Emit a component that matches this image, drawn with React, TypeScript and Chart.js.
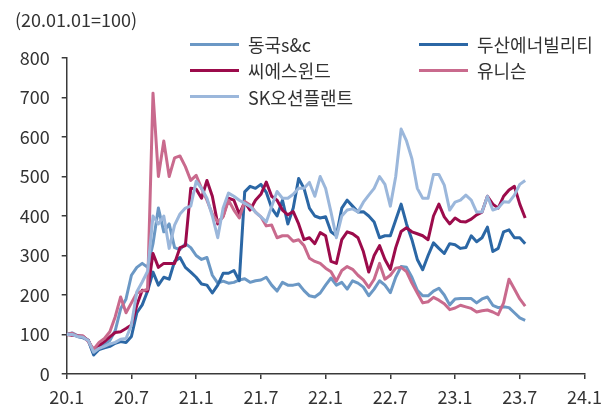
import React, { useEffect, useRef } from 'react';
import { Chart, registerables } from 'chart.js';

Chart.register(...registerables);

// Index (2020-01-01 = 100), semi-monthly samples starting Jan 2020
const seriesNames = ['동국s&c', '두산에너빌리티', '씨에스윈드', '유니슨', 'SK오션플랜트'];
const seriesColors = ['#6b98c5', '#2b67a5', '#9c0b4b', '#c96a8d', '#9bb7db'];
const xTickLabels = ['20.1', '20.7', '21.1', '21.7', '22.1', '22.7', '23.1', '23.7', '24.1'];
const titleText = '(20.01.01=100)';

const dongkuk = [
  100, 104, 97, 95, 85, 52, 68, 75, 85, 110, 165, 190, 250, 270, 280, 270,
  330, 420, 360, 380, 320, 315, 330, 320, 300, 290, 295, 250, 230, 235,
  230, 232, 238, 241, 232, 236, 238, 245, 225, 210, 232, 225, 225, 228, 211,
  198, 195, 205, 225, 243, 225, 232, 215, 236, 230, 220, 198, 215,
  236, 225, 206, 245, 272, 270, 245, 212, 198, 198, 210, 217, 200, 175, 190, 191,
  191, 191, 180, 190, 195, 174, 168, 170, 168, 155, 142, 136,
];
const doosan = [
  100, 102, 95, 92, 85, 48, 62, 66, 70, 78, 82, 80, 95, 155, 175, 210,
  258, 225, 245, 240, 285, 295, 270, 258, 245, 228, 225, 205, 225, 255,
  255, 262, 236, 461, 475, 470, 480, 460, 420, 400, 440, 380, 420, 495, 470,
  420, 400, 395, 398, 360, 350, 420, 440, 425, 410, 411, 400, 385,
  345, 350, 350, 390, 430, 380, 340, 290, 264, 300, 332, 318, 305, 330, 327, 318,
  320, 350, 335, 345, 372, 310, 318, 360, 365, 345, 345, 330,
];
const cswind = [
  100, 98, 97, 95, 85, 58, 72, 82, 94, 105, 107, 115, 124, 174, 212, 210,
  305, 270, 280, 280, 280, 320, 325, 470, 468, 445, 490, 450, 380, 400,
  445, 440, 405, 435, 415, 440, 455, 486, 450, 440, 415, 403, 411, 380, 340,
  345, 330, 358, 350, 285, 280, 340, 360, 355, 345, 310, 258, 300,
  325, 290, 265, 320, 361, 370, 360, 355, 350, 340, 400, 430, 398, 380, 395, 386,
  385, 392, 403, 410, 450, 430, 420, 450, 466, 475, 430, 395,
];
const unison = [
  100, 103, 96, 97, 82, 63, 80, 90, 107, 145, 195, 155, 180, 205, 210, 215,
  711, 500, 590, 500, 547, 552, 525, 490, 503, 470, 440, 405, 385, 398,
  440, 415, 395, 437, 428, 410, 398, 375, 377, 345, 350, 350, 336, 340, 325,
  293, 285, 280, 268, 259, 235, 262, 272, 265, 250, 238, 219, 240,
  280, 240, 250, 268, 270, 259, 230, 205, 180, 183, 194, 187, 178, 163, 167, 174,
  170, 166, 157, 160, 162, 157, 150, 180, 240, 215, 190, 172,
];
const skOcean = [
  100, 100, 95, 93, 85, 55, 65, 70, 76, 80, 88, 90, 124, 208, 233, 260,
  400, 380, 400, 318, 377, 405, 420, 425, 488, 470, 445, 400, 345, 420,
  458, 450, 440, 432, 424, 410, 398, 385, 424, 462, 445, 445, 455, 470, 470,
  485, 450, 500, 470, 410, 345, 400, 415, 418, 410, 435, 453, 470,
  500, 480, 425, 500, 620, 590, 545, 470, 445, 445, 505, 505, 478, 415, 435, 440,
  453, 440, 410, 410, 450, 415, 420, 436, 435, 453, 480, 490,
];

const seriesValues = [dongkuk, doosan, cswind, unison, skOcean];
// months elapsed since 2020-01 for each sample (semi-monthly sampling)
const sampleMonths = dongkuk.map((_, i) => i * 0.5);

const FONT = '"Noto Sans CJK KR", "Noto Sans", sans-serif';
const TEXT = '#333333';
const AXIS = '#3a3a3a';
const FONT_SIZE = 18;

const legendCols = [190, 419];
const legendRows = [44, 70, 96.5];

export default function App() {
  const ref = useRef<HTMLCanvasElement>(null);

  useEffect(() => {
    const canvas = ref.current;
    if (!canvas) return;
    const chart = new Chart(canvas, {
      type: 'line',
      data: {
        datasets: seriesValues.map((vals, i) => ({
          label: seriesNames[i],
          data: vals.map((v, j) => ({ x: sampleMonths[j], y: v })),
          borderColor: seriesColors[i],
          backgroundColor: seriesColors[i],
          borderWidth: 3,
          borderJoinStyle: 'round' as const,
          pointRadius: 0,
          tension: 0,
          fill: false,
          order: seriesValues.length - i,
        })),
      },
      options: {
        animation: false,
        responsive: false,
        devicePixelRatio: 1,
        layout: { padding: { top: 58, right: 19, bottom: 0, left: 0 } },
        plugins: {
          legend: { display: false },
          title: { display: false },
          tooltip: { enabled: false },
        },
        scales: {
          x: {
            type: 'linear',
            min: 0,
            max: 48,
            ticks: {
              stepSize: 6,
              autoSkip: false,
              maxRotation: 0,
              padding: 7,
              color: TEXT,
              font: { family: FONT, size: FONT_SIZE },
              callback: (v: any) => xTickLabels[Math.round(Number(v) / 6)] ?? '',
            },
            grid: {
              drawOnChartArea: false,
              drawTicks: true,
              tickLength: 5,
              tickColor: AXIS,
              lineWidth: 1.5,
            },
            border: { display: true, color: AXIS, width: 1.5 },
            afterFit: (axis: any) => {
              axis.height = 36;
            },
          },
          y: {
            min: 0,
            max: 800,
            ticks: {
              stepSize: 100,
              padding: 12,
              color: TEXT,
              font: { family: FONT, size: FONT_SIZE },
            },
            grid: {
              drawOnChartArea: false,
              drawTicks: true,
              tickLength: 5,
              tickColor: AXIS,
              lineWidth: 1.5,
            },
            border: { display: true, color: AXIS, width: 1.5 },
            afterFit: (axis: any) => {
              axis.width = 66.7;
            },
          },
        },
      },
    });
    return () => chart.destroy();
  }, []);

  return (
    <div
      style={{
        position: 'fixed',
        left: 0,
        top: 0,
        width: 609,
        height: 410,
        background: '#fff',
        fontFamily: FONT,
        color: TEXT,
        overflow: 'hidden',
      }}
    >
      <canvas
        ref={ref}
        width={609}
        height={410}
        style={{ position: 'absolute', left: 0, top: 0, width: 609, height: 410 }}
      />
      <div style={{ position: 'absolute', left: 15, top: 7, fontSize: FONT_SIZE, lineHeight: '24px', whiteSpace: 'nowrap' }}>
        {titleText}
      </div>
      {seriesNames.map((name, i) => (
        <div
          key={name}
          style={{
            position: 'absolute',
            left: legendCols[i % 2],
            top: legendRows[Math.floor(i / 2)] - 12,
            height: 24,
            display: 'flex',
            alignItems: 'center',
            whiteSpace: 'nowrap',
          }}
        >
          <span
            style={{
              display: 'inline-block',
              width: 49,
              height: 3,
              background: seriesColors[i],
              marginRight: 9,
            }}
          />
          <span style={{ fontSize: FONT_SIZE, lineHeight: '24px' }}>{name}</span>
        </div>
      ))}
    </div>
  );
}
